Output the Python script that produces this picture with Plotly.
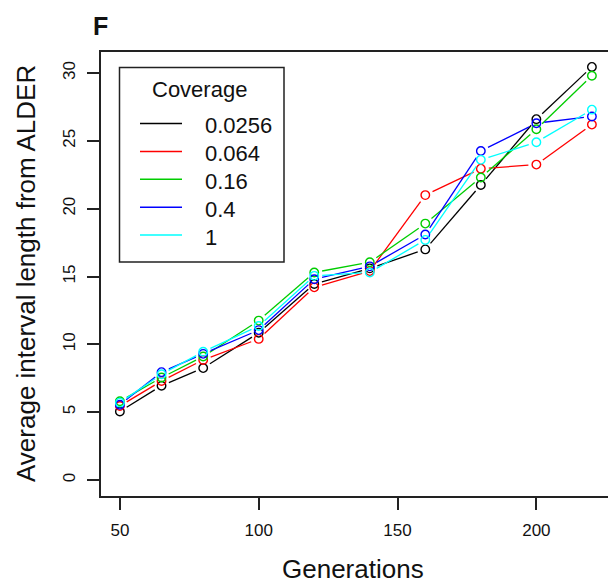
import math
import plotly.graph_objects as go

# generations sampled in the simulation
GENERATIONS = [50, 65, 80, 100, 120, 140, 160, 180, 200, 220]

# coverage levels (legend) and their colours
COVERAGE = ["0.0256", "0.064", "0.16", "0.4", "1"]
COLORS = ["#000000", "#FF0000", "#00CD00", "#0000FF", "#00FFFF"]

# average interval length from ALDER, one list per coverage
LEN_0256 = [5.05, 6.95, 8.25, 10.85, 14.45, 15.6, 17.0, 21.75, 26.6, 30.45]
LEN_064 = [5.45, 7.3, 8.85, 10.4, 14.2, 15.4, 21.0, 22.95, 23.25, 26.2]
LEN_16 = [5.8, 7.55, 9.1, 11.75, 15.3, 16.05, 18.9, 22.3, 25.85, 29.8]
LEN_4 = [5.55, 7.95, 9.3, 11.05, 14.8, 15.75, 18.1, 24.25, 26.3, 26.8]
LEN_1 = [5.7, 7.8, 9.45, 11.35, 15.05, 15.3, 17.7, 23.6, 24.9, 27.3]
SERIES = [LEN_0256, LEN_064, LEN_16, LEN_4, LEN_1]

X_TICKS = [50, 100, 150, 200]
Y_TICKS = [0, 5, 10, 15, 20, 25, 30]

# page geometry (pixels)
W, H = 608, 583
LEFT, RIGHT, TOP, BOTTOM = 101, 608, 52, 496
X_RANGE = [43.2, 225.8]
Y_RANGE = [-1.18, 31.55]
FONT = "Liberation Sans, Arial, sans-serif"


def px(x):
    """ pixel column -> paper x """
    return (x - LEFT) / (RIGHT - LEFT)


def py(y):
    """ pixel row -> paper y """
    return (BOTTOM - y) / (BOTTOM - TOP)


def gapped(xs, ys, gap=8):
    """ R type='b' style: line segments stop short of each point """
    kx = (RIGHT - LEFT) / (X_RANGE[1] - X_RANGE[0])
    ky = (BOTTOM - TOP) / (Y_RANGE[1] - Y_RANGE[0])
    outX, outY = [], []
    for i in range(len(xs) - 1):
        dx = (xs[i + 1] - xs[i]) * kx
        dy = (ys[i + 1] - ys[i]) * ky
        d = math.hypot(dx, dy)
        if d <= 2 * gap:
            continue
        f = gap / d
        outX += [xs[i] + (xs[i + 1] - xs[i]) * f, xs[i + 1] - (xs[i + 1] - xs[i]) * f, None]
        outY += [ys[i] + (ys[i + 1] - ys[i]) * f, ys[i + 1] - (ys[i + 1] - ys[i]) * f, None]
    return outX, outY


fig = go.Figure()
for name, color, vals in zip(COVERAGE, COLORS, SERIES):
    lx, ly = gapped(GENERATIONS, vals)
    fig.add_trace(go.Scatter(x=lx, y=ly, mode="lines", line=dict(color=color, width=1.3),
                             showlegend=False, hoverinfo="skip"))
    fig.add_trace(go.Scatter(x=GENERATIONS, y=vals, mode="markers", name=name,
                             marker=dict(symbol="circle-open", size=8.5, color=color,
                                         line=dict(width=1.4, color=color)),
                             showlegend=False))

axisStyle = dict(showgrid=False, zeroline=False, showline=True, linecolor="#222",
                 linewidth=1.5, ticks="outside", ticklen=12, tickwidth=1.5,
                 tickcolor="#222", tickfont=dict(family=FONT, size=17, color="#111"))

fig.update_xaxes(range=X_RANGE, tickvals=X_TICKS, mirror=True, ticklabelstandoff=6,
                 **axisStyle)
fig.update_yaxes(range=Y_RANGE, tickvals=Y_TICKS, tickangle=-90, ticklabelstandoff=5,
                 **axisStyle)

annotations = [
    dict(text="<b>F</b>", x=px(100), y=py(26), font=dict(size=25)),
    dict(text="Generations", x=px(353), y=py(569), font=dict(size=26)),
    dict(text="Average interval length from ALDER", x=px(26), y=py(274),
         textangle=-90, font=dict(size=26)),
    dict(text="Coverage", x=px(199), y=py(89), font=dict(size=22)),
]

# legend drawn by hand to mimic the R legend box
shapes = [dict(type="rect", xref="paper", yref="paper", x0=px(119.5), x1=px(284),
               y0=py(262), y1=py(67.5), line=dict(color="#222", width=1.5))]
for i, (name, color) in enumerate(zip(COVERAGE, COLORS)):
    rowY = 123.5 + 27.9 * i
    shapes.append(dict(type="line", xref="paper", yref="paper", x0=px(140), x1=px(182),
                       y0=py(rowY), y1=py(rowY), line=dict(color=color, width=1.5)))
    annotations.append(dict(text=name, x=px(203), y=py(rowY + 2), xanchor="left",
                            font=dict(size=22)))

for a in annotations:
    a.setdefault("xref", "paper")
    a.setdefault("yref", "paper")
    a.setdefault("showarrow", False)
    a.setdefault("xanchor", "center")
    a.setdefault("yanchor", "middle")
    a["font"].update(family=FONT, color="#111")

fig.update_layout(
    width=W, height=H,
    margin=dict(l=LEFT, r=W - RIGHT, t=TOP, b=H - BOTTOM, pad=0),
    plot_bgcolor="white", paper_bgcolor="white",
    annotations=annotations, shapes=shapes,
    showlegend=False,
)

# the page body has a default 8px margin, drop it so the figure sits at 0,0
fig.write_html("out.html", config={"displayModeBar": False},
               post_script="document.body.style.margin='0';")
